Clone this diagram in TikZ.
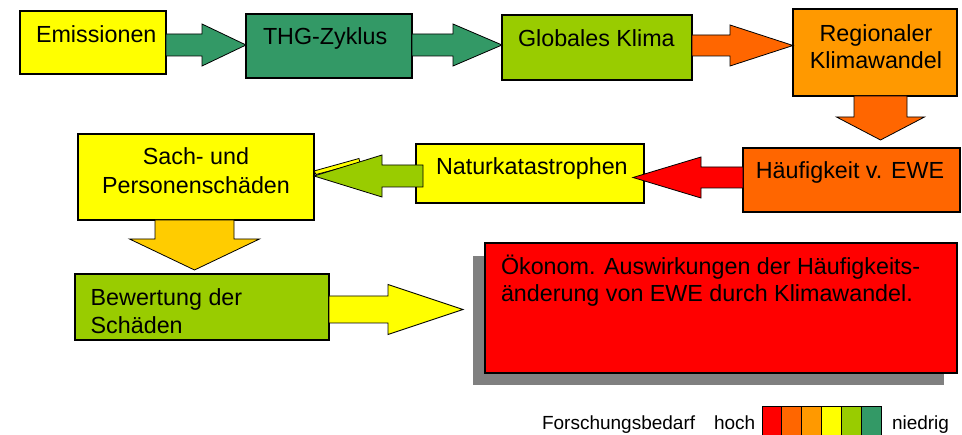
\documentclass[tikz,border=0pt]{standalone}
\usepackage{fontspec}
\setmainfont{Liberation Sans}
\usetikzlibrary{calc,fit}
\definecolor{cyel}{HTML}{FFFF00}
\definecolor{cthg}{HTML}{339966}
\definecolor{clime}{HTML}{99CC00}
\definecolor{cora}{HTML}{FF9900}
\definecolor{cdor}{HTML}{FF6600}
\definecolor{cred}{HTML}{FF0000}
\definecolor{cgold}{HTML}{FFCC00}
\definecolor{cshad}{HTML}{808080}
\tikzset{
  box/.style={draw=black, line width=1.1pt, inner sep=0pt, outer sep=0pt, rectangle},
  barrow/.style={draw=black, line width=0.8pt, line join=miter},
  txt/.style={font=\fontsize{23.3}{27}\selectfont, inner sep=0pt, outer sep=0pt},
  ltxt/.style={font=\fontsize{19}{22}\selectfont, inner sep=0pt, outer sep=0pt, anchor=base west},
}
% horizontal block arrow: colour, from, tip, signed head length, half shaft, half head
\newcommand{\harrow}[6]{%
  \draw[barrow, fill=#1] let \p1=(#2), \p2=(#3) in
    (\x1,{\y2+#5pt}) -- ({\x2-(#4pt)},{\y2+#5pt}) -- ({\x2-(#4pt)},{\y2+#6pt}) -- (\x2,\y2)
    -- ({\x2-(#4pt)},{\y2-#6pt}) -- ({\x2-(#4pt)},{\y2-#5pt}) -- (\x1,{\y2-#5pt}) -- cycle;}
% vertical (downward) block arrow
\newcommand{\varrow}[6]{%
  \draw[barrow, fill=#1] let \p1=(#2), \p2=(#3) in
    ({\x2-#5pt},\y1) -- ({\x2-#5pt},{\y2+#4pt}) -- ({\x2-#6pt},{\y2+#4pt}) -- (\x2,\y2)
    -- ({\x2+#6pt},{\y2+#4pt}) -- ({\x2+#5pt},{\y2+#4pt}) -- ({\x2+#5pt},\y1) -- cycle;}
\begin{document}
\begin{tikzpicture}[x=1pt,y=-1pt]
\useasboundingbox (0,0) rectangle (962,435);
% boxes
\node[box, fill=cyel, fit={(20,11) (166,74)}] (em) {};
\node[box, fill=cthg, fit={(246,14) (412,78)}] (thg) {};
\node[box, fill=clime, fit={(502,15) (692,80)}] (glob) {};
\node[box, fill=cora, fit={(793,9) (957,96)}] (reg) {};
\node[box, fill=cdor, fit={(743,148) (960,212)}] (hf) {};
\node[box, fill=cyel, fit={(416,144) (644,203)}] (nat) {};
\node[box, fill=cyel, fit={(78,134) (314,220)}] (sach) {};
\node[box, fill=clime, fit={(75,274) (329,340)}] (bew) {};
\node[box, draw=none, fill=cshad, fit={(473,256) (944,385)}] (shad) {};
\node[box, fill=cred, fit={(485,243) (957,373)}] (oek) {};
% texts
\node[txt, anchor=base west] (emt) at (36,43) {Emissionen};
\node[txt, anchor=base west] (thgt) at (263,45) {THG-Zyklus};
\node[txt, anchor=base west] (globt) at (518,46.5) {Globales Klima};
\node[txt, anchor=base] (regt1) at (876,41.7) {Regionaler};
\node[txt, anchor=base] (regt2) at (876,68.3) {Klimawandel};
\node[txt, anchor=base] (hft) at (850,178.3) {Häufigkeit v. EWE};
\node[txt, anchor=base west] (natt) at (436,175) {Naturkatastrophen};
\node[txt, anchor=base] (sacht1) at (196,165) {Sach- und};
\node[txt, anchor=base] (sacht2) at (196,193.3) {Personenschäden};
\node[txt, anchor=base west] (bewt1) at (90.7,305.7) {Bewertung der};
\node[txt, anchor=base west] (bewt2) at (90.7,333.3) {Schäden};
\node[txt, anchor=base west] (oekt1) at (501,275) {Ökonom. Auswirkungen der Häufigkeits-};
\node[txt, anchor=base west] (oekt2) at (501,301.7) {änderung von EWE durch Klimawandel.};
% arrows
\harrow{cthg}{em.east}{thg.west |- 0,45}{44}{11}{21}
\harrow{cthg}{thg.east}{glob.west |- 0,45}{49}{11}{21}
\harrow{cdor}{glob.east}{reg.west |- 0,45.5}{63}{10.5}{20.5}
\varrow{cdor}{reg.south}{880.5,140}{23}{26.5}{44}
\draw[barrow, fill=cyel] (314,171) -- (359,158.5) -- (360,163) -- (316,174.5) -- cycle;
\harrow{cred}{hf.west}{633,177.5}{-68}{10.5}{20.5}
\harrow{clime}{423,176}{sach.east |- 0,176}{-68}{11}{21}
\varrow{cgold}{sach.south}{194.5,270}{31}{39.5}{65}
\harrow{cyel}{bew.east}{463,309.5}{75}{13.5}{25}
% legend
\node[ltxt] (lf) at (542,429.3) {Forschungsbedarf};
\node[ltxt] (lh) at (714,429.3) {hoch};
\node[ltxt] (ln) at (892,429.3) {niedrig};
\foreach \c [count=\i from 0] in {cred,cdor,cora,cyel,clime,cthg}{
  \draw[fill=\c, line width=0.8pt] ({762+\i*19.83},406) rectangle ({762+(\i+1)*19.83},440);
}
\end{tikzpicture}
\end{document}
